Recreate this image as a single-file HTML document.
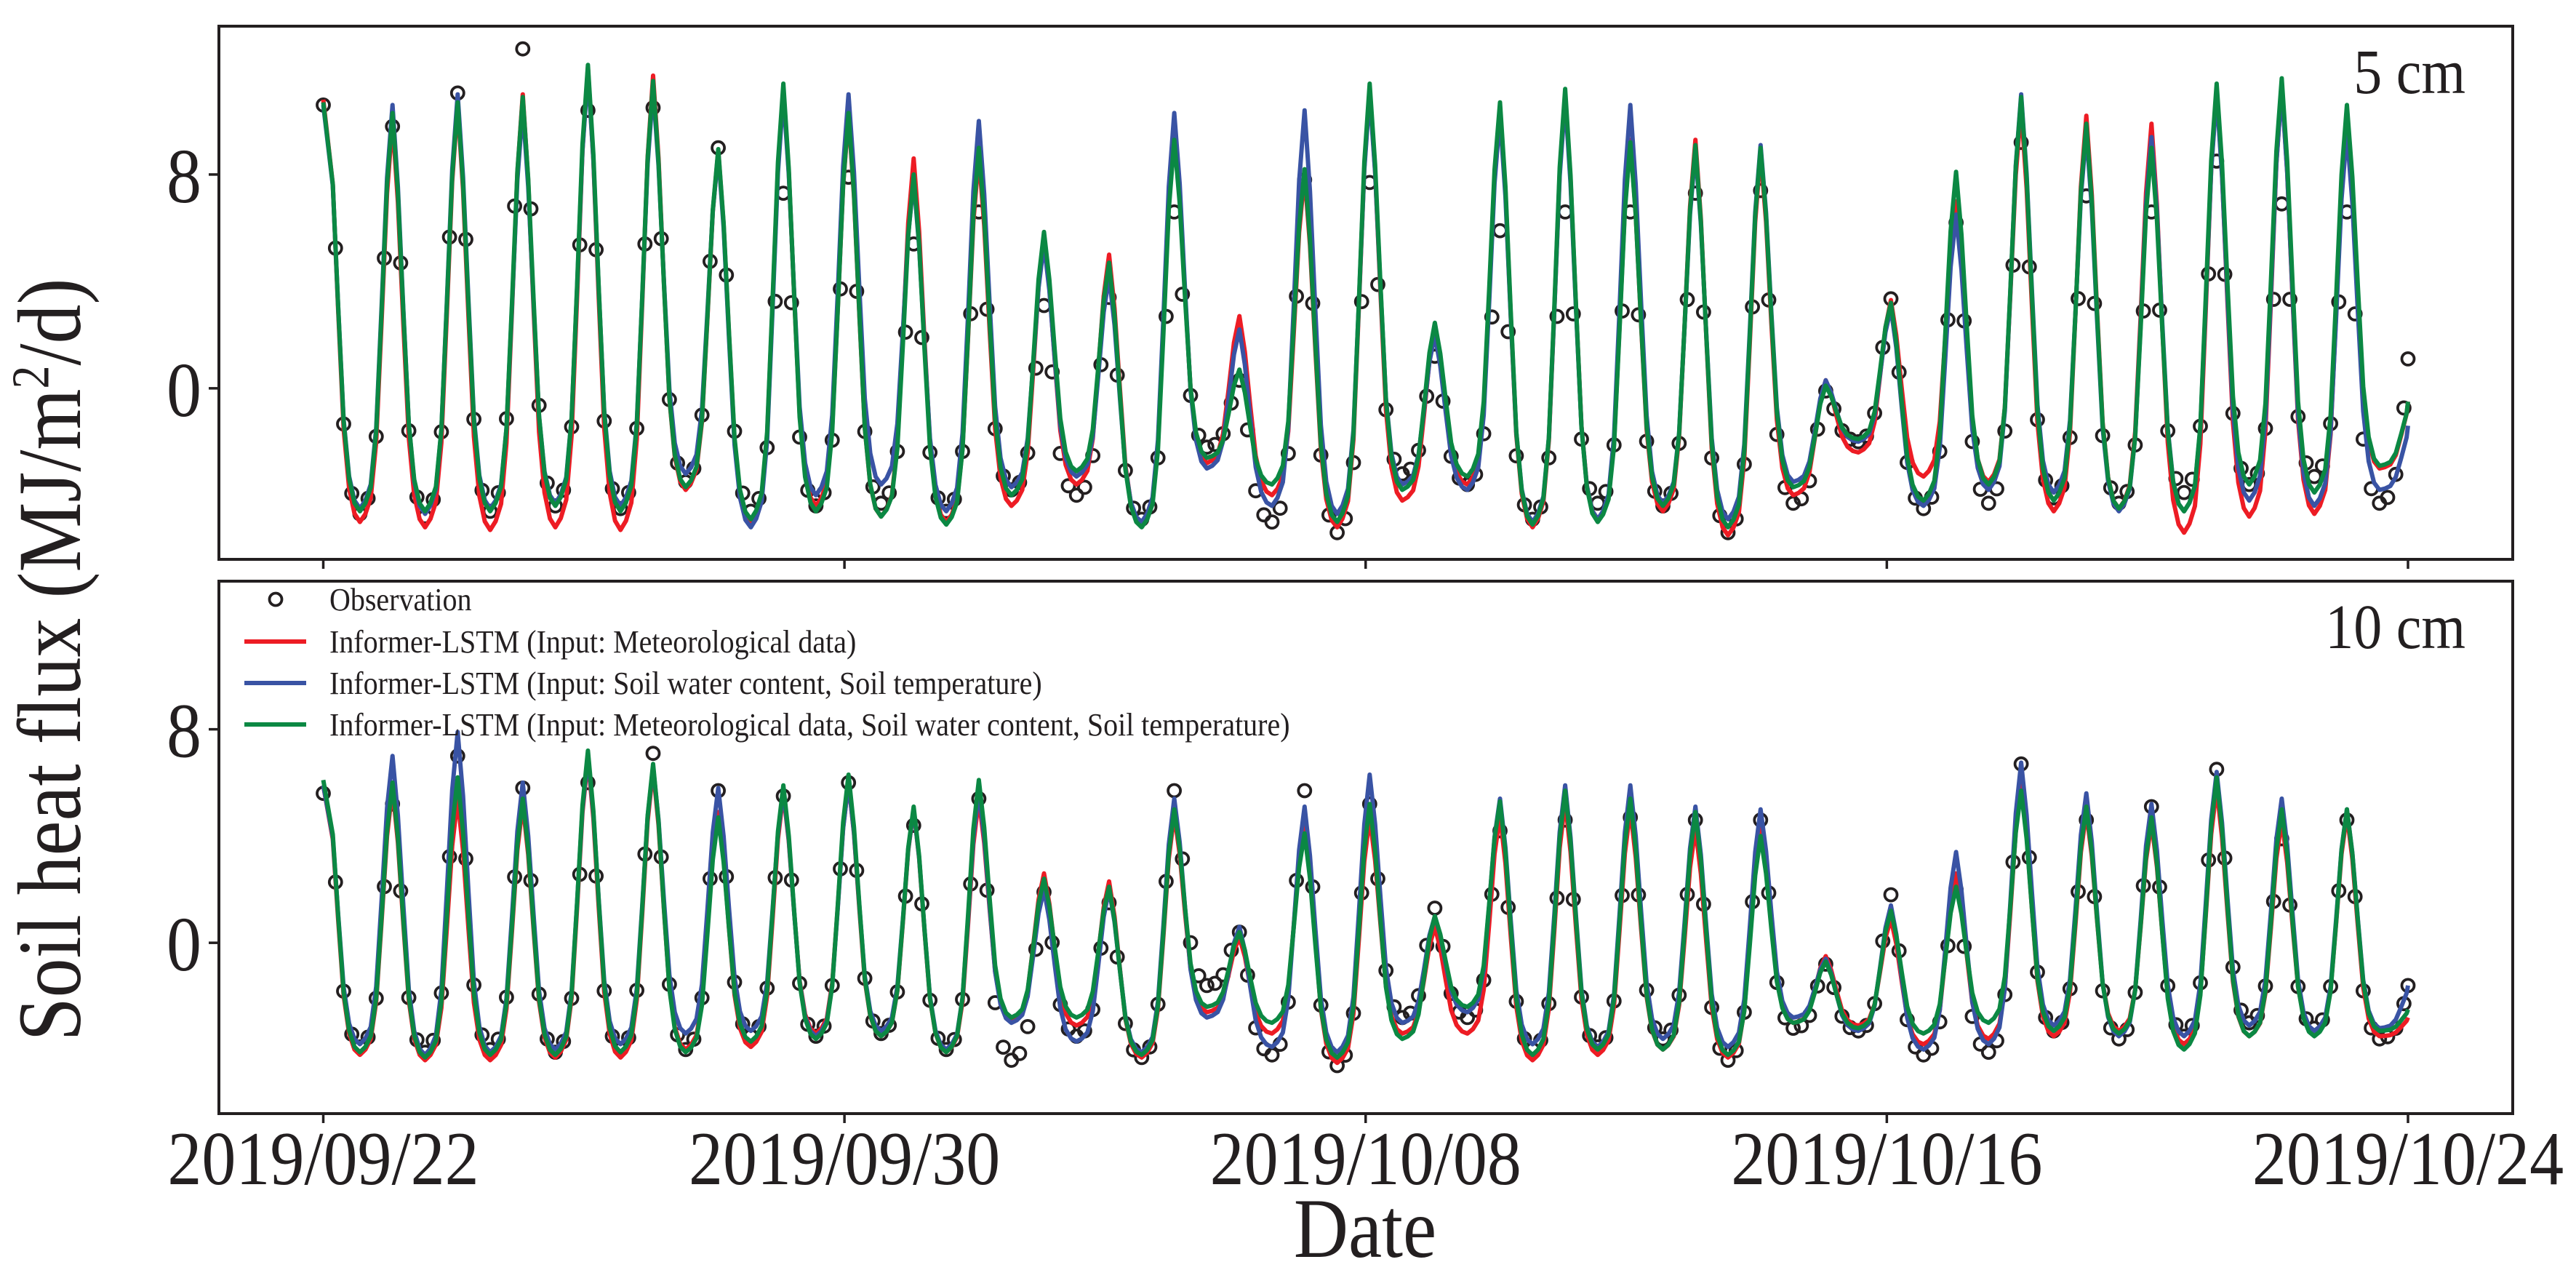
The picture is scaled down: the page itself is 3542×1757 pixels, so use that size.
<!DOCTYPE html>
<html><head><meta charset="utf-8"><style>
html,body{margin:0;padding:0;background:#fff;}
svg{display:block;font-family:"Liberation Serif","Times New Roman",serif;}
</style></head><body>
<svg id="chart" width="3542" height="1757" viewBox="0 0 3542 1757" xmlns="http://www.w3.org/2000/svg">
<rect width="3542" height="1757" fill="#fff"/>
<g id="layer"></g>
</svg>
<script>
// ---- data (daily peak / night trough per series) ----
const tickLabels = ["2019/09/22","2019/09/30","2019/10/08","2019/10/16","2019/10/24"];
const tickDays = [0,8,16,24,32];
const yTicks = [0,8];
const panelLabels = ["5 cm","10 cm"];
const diurnalShape = [1,0.8,0.5,0.22,0.08,0.02,0,0.02,0.06,0.2,0.5,0.82];

const obsPeak5 = [10.6,9.8,11.05,12.7,10.4,10.5,9.0,7.3,7.9,5.4,6.6,3.1,3.4,6.6,0.3,7.8,7.7,1.2,5.9,6.6,6.6,7.3,7.4,-0.1,3.35,6.2,9.2,7.2,6.6,8.5,6.9,6.6];
const obsTrough5 = [-4.7,-4.8,-4.6,-4.4,-4.5,-3.5,-4.6,-4.4,-4.3,-4.6,-3.8,-4.0,-4.9,-2.2,-5.0,-5.4,-3.2,-3.6,-4.9,-4.3,-4.4,-5.4,-4.3,-2.0,-4.5,-4.3,-4.1,-4.3,-3.9,-3.6,-3.3,-4.3];
const redPeak5 = [10.8,10.0,10.6,11.0,12.0,11.7,8.9,11.2,10.2,8.6,8.7,5.6,5.0,9.8,2.7,8.0,11.2,2.2,10.5,11.0,9.3,9.3,8.8,0.3,3.3,7.0,10.5,10.2,9.9,11.2,11.3,10.2];
const redTrough5 = [-5.0,-5.2,-5.3,-5.2,-5.3,-3.8,-5.0,-4.4,-4.8,-5.0,-4.4,-3.6,-5.1,-2.8,-4.0,-5.2,-4.2,-3.6,-5.2,-4.9,-4.6,-5.5,-4.0,-2.4,-3.3,-3.5,-4.6,-4.5,-5.4,-4.8,-4.7,-3.0];
const bluePeak5 = [10.6,10.6,11.0,10.5,11.8,11.2,8.8,11.0,11.0,7.8,10.0,5.4,4.2,10.3,2.2,10.4,11.0,2.0,10.2,10.8,10.6,8.9,9.1,0.3,3.0,6.5,11.0,9.6,9.4,11.0,11.2,9.6];
const blueTrough5 = [-4.5,-4.7,-4.5,-4.3,-4.4,-3.2,-5.2,-4.0,-3.6,-4.6,-3.7,-3.3,-5.0,-3.0,-4.4,-4.7,-3.6,-3.8,-5.0,-4.9,-4.3,-4.9,-3.5,-2.0,-4.4,-3.8,-3.9,-4.6,-4.6,-4.2,-4.4,-3.8];
const greenPeak5 = [10.7,10.3,10.7,10.9,12.1,11.5,8.95,11.4,10.3,8.0,9.0,5.85,4.7,9.3,0.7,8.2,11.4,2.45,10.7,11.2,9.2,9.1,9.0,0.1,3.2,8.1,10.9,9.9,9.0,11.4,11.6,10.6];
const greenTrough5 = [-4.6,-4.6,-4.6,-4.4,-4.6,-3.7,-4.9,-4.6,-4.8,-5.1,-4.0,-3.1,-5.2,-2.6,-3.6,-5.0,-3.8,-3.3,-5.1,-5.0,-4.4,-5.2,-3.7,-1.9,-4.2,-3.6,-4.2,-4.5,-4.6,-3.6,-3.9,-2.9];
const endValues5 = [1.1,-0.5,-1.4,-0.5]; // obs, red, blue, green

const obsPeak10 = [5.6,5.2,7.0,5.8,6.0,7.1,5.7,5.5,6.0,4.4,5.4,1.9,1.5,5.7,0.4,5.7,5.2,1.3,4.2,4.6,4.7,4.6,4.6,-0.8,1.8,2.0,6.7,4.6,5.1,6.5,3.9,4.6];
const obsTrough10 = [-3.9,-4.1,-4.0,-4.1,-4.0,-4.0,-3.5,-3.5,-3.4,-4.0,-4.4,-3.5,-4.3,-1.6,-4.2,-4.6,-2.8,-2.8,-4.0,-3.9,-3.6,-4.4,-3.2,-3.3,-4.2,-4.1,-3.3,-3.6,-3.5,-3.0,-3.2,-3.6];
const redPeak10 = [5.9,5.8,5.4,5.2,6.9,6.5,4.9,5.6,6.0,5.0,5.4,2.6,2.3,4.8,0.2,4.6,4.7,0.6,4.8,5.3,5.0,4.3,4.5,-0.5,0.9,2.6,5.9,4.9,4.5,5.8,4.6,4.8];
const redTrough10 = [-4.2,-4.4,-4.4,-4.3,-4.3,-4.0,-3.9,-3.4,-3.5,-4.1,-2.9,-3.1,-4.3,-2.6,-3.4,-4.5,-3.4,-3.4,-4.4,-4.2,-4.0,-4.3,-3.0,-3.1,-3.8,-3.6,-3.5,-3.3,-3.8,-3.5,-3.4,-3.5];
const bluePeak10 = [5.9,7.0,7.9,6.0,7.0,6.6,5.8,5.7,6.0,5.0,5.7,2.0,2.0,5.4,0.6,5.1,6.3,1.0,5.4,5.9,5.9,5.1,5.0,-0.6,1.4,3.4,6.75,5.6,5.2,6.4,5.4,5.0];
const blueTrough10 = [-3.8,-4.2,-4.1,-4.0,-3.8,-3.4,-3.3,-3.5,-3.3,-4.0,-3.0,-3.7,-4.1,-2.8,-3.9,-4.1,-3.0,-2.6,-3.8,-3.9,-3.6,-3.9,-2.8,-3.3,-4.0,-3.8,-3.1,-3.5,-3.5,-3.1,-3.3,-3.2];
const greenPeak10 = [6.1,6.0,6.2,5.4,7.2,6.7,4.7,5.9,6.3,5.1,6.1,2.4,2.1,5.0,0.4,4.1,5.2,1.0,5.3,5.7,5.4,4.9,4.0,-0.7,1.2,2.1,5.7,5.1,4.7,6.2,5.0,5.0];
const greenTrough10 = [-4.1,-4.3,-4.2,-4.2,-4.1,-4.1,-3.7,-3.6,-3.5,-4.1,-2.8,-2.8,-4.2,-2.4,-3.0,-4.3,-3.6,-2.4,-4.2,-4.0,-4.0,-4.2,-3.0,-3.2,-3.4,-3.0,-3.3,-3.4,-4.0,-3.5,-3.5,-3.3];
const endValues10 = [-1.6,-2.8,-1.6,-2.5];

const legendLabels = ["Observation","Informer-LSTM (Input: Meteorological data)","Informer-LSTM (Input: Soil water content, Soil temperature)","Informer-LSTM (Input: Meteorological data, Soil water content, Soil temperature)"];
const COLORS = {obs:"#231f20", red:"#ed1c24", blue:"#3953a4", green:"#0b8843"};

// ---- layout ----
const NS = "http://www.w3.org/2000/svg";
const layer = document.getElementById("layer");
const X0 = 301, X1 = 3455;
const panels = [{top:36, bottom:769}, {top:799, bottom:1531}];
const Y_MIN = -6.4, Y_MAX = 13.55;
const TSY = 1.12; // vertical text stretch of the reference
const xs = d => 444.5 + (3311 - 444.5) * d / 32;
function ys(p, v){ return p.bottom - (v - Y_MIN) / (Y_MAX - Y_MIN) * (p.bottom - p.top); }
function mk(tag, attrs, parent){ const e = document.createElementNS(NS, tag); for (const k in attrs) e.setAttribute(k, attrs[k]); (parent||layer).appendChild(e); return e; }
function txt(x, y, size, anchor, str, parent){
  const t = mk("text", {x:0, y:0, transform:"translate("+x+","+y+") scale(1,"+TSY+")", "text-anchor":anchor, "font-size":size, fill:"#231f20"}, parent);
  t.textContent = str; return t;
}
function shapeAt(h){ const i = Math.floor(h/2), fr = (h/2) - i; const a = diurnalShape[i % 12], b = i+1 < 12 ? diurnalShape[i+1] : 1; return a + (b-a)*fr; }
function series(peaks, troughs, endVal, hours, shift){
  const pts = [];
  for (let d = 0; d < peaks.length; d++){
    const next = d < peaks.length-1 ? peaks[d+1] : endVal;
    for (const h of hours){
      const f = shapeAt(h);
      const top = h <= 11 ? peaks[d] : next;
      const t = (d === 0 && h === 0) ? 0 : d + (h + shift)/24;
      pts.push([t, troughs[d] + (top - troughs[d]) * f]);
    }
  }
  pts.push([peaks.length, endVal]);
  return pts;
}
const lineHours = [0,2,4,6,8,10,12,14,16,18,20,22];
const obsHours = [0,3,6,9,12,15,18,21];

const panelData = [
  {obs:[obsPeak5,obsTrough5], red:[redPeak5,redTrough5], blue:[bluePeak5,blueTrough5], green:[greenPeak5,greenTrough5], ends:endValues5},
  {obs:[obsPeak10,obsTrough10], red:[redPeak10,redTrough10], blue:[bluePeak10,blueTrough10], green:[greenPeak10,greenTrough10], ends:endValues10}
];

const defs = mk("defs", {});
panels.forEach((p, pi) => {
  const cp = mk("clipPath", {id:"clip"+pi}, defs);
  mk("rect", {x:X0, y:p.top, width:X1-X0, height:p.bottom-p.top}, cp);
});

panels.forEach((p, pi) => {
  const g = mk("g", {});
  
  
  const pd = panelData[pi];
  const plot = mk("g", {"clip-path":"url(#clip"+pi+")"}, g);
  const og = mk("g", {}, plot);
  
  
  series(pd.obs[0], pd.obs[1], pd.ends[0], obsHours, 1.5).forEach(pt => {
    const c = mk("circle", {cx:xs(pt[0]).toFixed(1), cy:ys(p,pt[1]).toFixed(1), r:8.5, fill:"none", stroke:COLORS.obs, "stroke-width":3.8}, og);
    
    
  });
  [["red",1,"meteorological-model-line"],["blue",2,"soil-model-line"],["green",3,"combined-model-line"]].forEach(([key, ei, nm]) => {
    const pts = series(pd[key][0], pd[key][1], pd.ends[ei], lineHours, 1.5);
    const dstr = pts.map((pt,i) => (i?"L":"M") + xs(pt[0]).toFixed(1) + " " + ys(p,pt[1]).toFixed(1)).join("");
    const path = mk("path", {d:dstr, fill:"none", stroke:COLORS[key], "stroke-width":6, "stroke-linejoin":"round"}, plot);
    
    
  });
  const fr = mk("rect", {x:X0, y:p.top, width:X1-X0, height:p.bottom-p.top, fill:"none", stroke:"#231f20", "stroke-width":4}, g);
  
  
  tickDays.forEach(d => {
    const t = mk("line", {x1:xs(d), x2:xs(d), y1:p.bottom, y2:p.bottom+13, stroke:"#231f20", "stroke-width":3.5}, g);
    
    
  });
  yTicks.forEach(v => {
    const t = mk("line", {x1:X0-14, x2:X0, y1:ys(p,v), y2:ys(p,v), stroke:"#231f20", "stroke-width":3.5}, g);
    
    
    const tl = txt(X0-24, ys(p,v)+38, 96, "end", String(v), g);
    
    
  });
  const pl = txt(3390, p.top + 92, 78, "end", panelLabels[pi], g);
  
  
});

tickDays.forEach((d, i) => {
  const t = txt(xs(d), 1628, 94, "middle", tickLabels[i]);
  
  
});
const xt = txt(1877, 1728, 104, "middle", "Date");



const yt = mk("text", {x:0, y:0, transform:"translate(110,907) rotate(-90) scale(1,1.15)", "text-anchor":"middle", "font-size":108, fill:"#231f20"});
yt.innerHTML = 'Soil heat flux (MJ/m<tspan dy="-38" font-size="64">2</tspan><tspan dy="38">/d)</tspan>';



const lg = mk("g", {});


const rowY = [824, 882, 939, 996];
const legendColors = [COLORS.obs, COLORS.red, COLORS.blue, COLORS.green];
legendLabels.forEach((lab, i) => {
  const e = mk("g", {}, lg);
  
  
  if (i === 0) mk("circle", {cx:379, cy:rowY[i], r:8.5, fill:"none", stroke:COLORS.obs, "stroke-width":3.8}, e);
  else mk("line", {x1:336, x2:421, y1:rowY[i], y2:rowY[i], stroke:legendColors[i], "stroke-width":6}, e);
  txt(453, rowY[i]+15, 40, "start", lab, e);
});
</script>
</body></html>
